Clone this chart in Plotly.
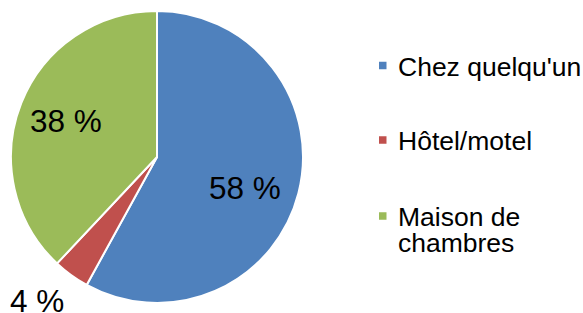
import math
import plotly.graph_objects as go

categories = ["Chez quelqu'un", "Hôtel/motel", "Maison de<br>chambres"]
values = [58, 4, 38]
colors = ["#4F81BD", "#C0504D", "#9BBB59"]

W, H = 583, 313
CX, CY, R = 157, 157, 146
FONT = "Arial, Liberation Sans, sans-serif"

fig = go.Figure(go.Pie(
    labels=categories,
    values=values,
    sort=False,
    direction="clockwise",
    rotation=0,
    marker=dict(colors=colors, line=dict(color="white", width=2)),
    textinfo="none",
    hoverinfo="label+percent",
    showlegend=False,
    domain=dict(x=[(CX - R) / W, (CX + R) / W], y=[1 - (CY + R) / H, 1 - (CY - R) / H]),
))

# data labels placed at each slice's mid angle
radial = [0.64, 1.285, 0.67]
ang_off = [5, 3.8, 0]
total = sum(values)
cum = 0
annotations = []
for v, f, off in zip(values, radial, ang_off):
    mid = (cum + v / 2) / total * 360 + off
    cum += v
    th = math.radians(mid)
    px = CX + R * f * math.sin(th)
    py = CY - R * f * math.cos(th)
    annotations.append(dict(
        x=px / W, y=1 - py / H, xref="paper", yref="paper",
        text=f"{round(v / total * 100)} %", showarrow=False,
        xanchor="center", yanchor="middle",
        font=dict(family=FONT, size=31.5, color="black"),
    ))

# manual legend
leg_y = [67, 141, 217]
mark_y = [65.5, 140, 216]
LINE_H = 26.5
shapes = []
for cat, col, ty, my in zip(categories, colors, leg_y, mark_y):
    for i, line in enumerate(cat.split("<br>")):
        annotations.append(dict(
            x=396 / W, y=1 - (ty + i * LINE_H) / H, xref="paper", yref="paper",
            text=line, showarrow=False, xanchor="left", yanchor="middle", align="left",
            font=dict(family=FONT, size=26.5, color="black"),
        ))
    shapes.append(dict(
        type="rect", xref="paper", yref="paper",
        x0=379 / W, x1=386.5 / W, y0=1 - (my + 3.75) / H, y1=1 - (my - 3.75) / H,
        fillcolor=col, line=dict(width=0),
    ))

fig.update_layout(
    width=W, height=H,
    margin=dict(l=0, r=0, t=0, b=0),
    paper_bgcolor="white", plot_bgcolor="white",
    annotations=annotations, shapes=shapes,
    font=dict(family=FONT),
)

fig.write_html(
    "out.html",
    config={"displayModeBar": False},
    post_script="document.body.style.margin='0';document.body.style.overflow='hidden';",
)
